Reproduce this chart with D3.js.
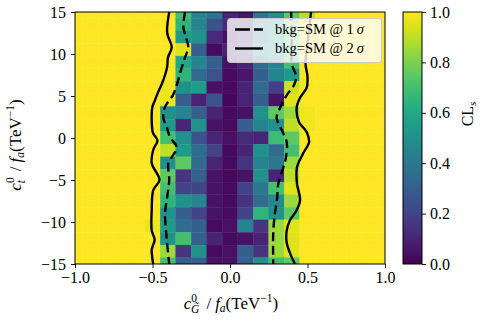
<!DOCTYPE html>
<html>
<head>
<meta charset="utf-8">
<script src="https://cdn.jsdelivr.net/npm/d3@7"></script>
<style>
  body { margin: 0; background: #fff; }
  text { font-family: "Liberation Serif", serif; fill: #000; }
</style>
</head>
<body>
<div id="chart"></div>
<script>
// grid centres (cells are 0.1 wide in x, 1.5 tall in y)
var xCenters = [-1.0,-0.9,-0.8,-0.7,-0.6,-0.5,-0.4,-0.3,-0.2,-0.1,0.0,0.1,0.2,0.3,0.4,0.5,0.6,0.7,0.8,0.9,1.0];
var yCenters = [15,13.5,12,10.5,9,7.5,6,4.5,3,1.5,0,-1.5,-3,-4.5,-6,-7.5,-9,-10.5,-12,-13.5,-15];

// CL_s per row (top to bottom), per column (left to right)
var clsRows = [
  [1,1,1,1,1,1,   1,   0.7, 0.45,0.4, 0.1, 0.06,0.4, 0.5, 0.75,0.9, 1,1,1,1,1],
  [1,1,1,1,1,1,   1,   0.65,0.45,0.25,0.12,0.1, 0.45,0.5, 0.8, 1,   1,1,1,1,1],
  [1,1,1,1,1,1,   1,   0.55,0.5, 0.12,0.04,0.1, 0.4, 0.55,0.75,1,   1,1,1,1,1],
  [1,1,1,1,1,1,   1,   0.95,0.3, 0.03,0.1, 0.15,0.5, 0.55,0.7, 1,   1,1,1,1,1],
  [1,1,1,1,1,1,   1,   0.6, 0.45,0.3, 0.04,0.1, 0.35,0.45,0.7, 1,   1,1,1,1,1],
  [1,1,1,1,1,1,   1,   0.65,0.35,0.25,0.03,0.06,0.3, 0.45,0.55,1,   1,1,1,1,1],
  [1,1,1,1,1,1,   0.98,0.5, 0.55,0.04,0.03,0.1, 0.35,0.18,0.92,1,   1,1,1,1,1],
  [1,1,1,1,1,1,   0.97,0.3, 0.1, 0.25,0.02,0.1, 0.3, 0.05,0.95,1,   1,1,1,1,1],
  [1,1,1,1,1,1,   0.5, 0.45,0.3, 0.1, 0.03,0.05,0.5, 0.75,0.85,0.98,1,1,1,1,1],
  [1,1,1,1,1,1,   0.55,0.1, 0.5, 0.05,0.03,0.3, 0.45,0.5, 0.9, 0.98,1,1,1,1,1],
  [1,1,1,1,1,1,   0.7, 0.5, 0.25,0.1, 0.04,0.12,0.1, 0.68,0.75,1,   1,1,1,1,1],
  [1,1,1,1,1,1,   0.9, 0.55,0.35,0.2, 0.03,0.1, 0.5, 0.35,0.7, 1,   1,1,1,1,1],
  [1,1,1,1,1,1,   0.5, 0.75,0.35,0.1, 0.03,0.15,0.45,0.4, 0.85,1,   1,1,1,1,1],
  [1,1,1,1,1,1,   0.75,0.15,0.3, 0.05,0.02,0.05,0.5, 0.1, 0.9, 1,   1,1,1,1,1],
  [1,1,1,1,1,1,   0.7, 0.2, 0.2, 0.05,0.03,0.2, 0.4, 0.7, 0.95,1,   1,1,1,1,1],
  [1,1,1,1,1,1,   0.65,0.5, 0.45,0.05,0.03,0.15,0.35,0.47,0.85,1,   1,1,1,1,1],
  [1,1,1,1,1,1,   0.5, 0.3, 0.2, 0.05,0.03,0.2, 0.65,0.5, 0.75,1,   1,1,1,1,1],
  [1,1,1,1,1,0.97,0.55,0.35,0.3, 0.03,0.04,0.45,0.15,0.85,0.95,1,   1,1,1,1,1],
  [1,1,1,1,1,1,   0.5, 0.7, 0.3, 0.1, 0.03,0.05,0.1, 0.85,0.95,1,   1,1,1,1,1],
  [1,1,1,1,1,1,   0.85,0.15,0.5, 0.03,0.04,0.3, 0.15,0.85,0.95,1,   1,1,1,1,1],
  [1,1,1,1,1,1,   0.7, 0.3, 0.3, 0.05,0.04,0.3, 0.5, 0.7, 0.75,1,   1,1,1,1,1]
];

var xTicks = [-1, -0.5, 0, 0.5, 1];
var yTicks = [-15, -10, -5, 0, 5, 10, 15];
var cbTicks = [0, 0.2, 0.4, 0.6, 0.8, 1.0];

// contours, [x, y]
var sig1Left = [[-0.29,15],[-0.301,13.2],[-0.284,12.0],[-0.269,10.8],[-0.29,9.6],[-0.316,8.1],[-0.34,6.5],[-0.368,5.1],[-0.419,3.7],[-0.43,2.4],[-0.408,1.3],[-0.387,0.1],[-0.344,-1.1],[-0.376,-2.3],[-0.398,-3.0],[-0.392,-5.0],[-0.405,-7.0],[-0.419,-8.9],[-0.413,-11.0],[-0.406,-12.5],[-0.392,-15]];
var sig1Right = [[0.394,15],[0.397,12.9],[0.40,10.5],[0.398,8.9],[0.426,7.3],[0.413,6.3],[0.366,5.1],[0.323,3.6],[0.301,2.4],[0.334,0.95],[0.366,-0.5],[0.361,-2.3],[0.344,-3.5],[0.312,-5.4],[0.303,-7.4],[0.29,-8.9],[0.279,-11.3],[0.279,-15]];
var sig2Left = [[-0.392,15],[-0.405,12.5],[-0.376,10.8],[-0.40,9.6],[-0.406,8.4],[-0.43,6.9],[-0.465,5.4],[-0.484,4.5],[-0.501,3.7],[-0.505,2.1],[-0.497,0.6],[-0.468,-0.3],[-0.495,-1.4],[-0.505,-3.0],[-0.455,-5.0],[-0.495,-6.2],[-0.505,-8.6],[-0.505,-11.0],[-0.486,-12.1],[-0.505,-13.3],[-0.495,-15]];
var sig2Right = [[0.523,15],[0.503,11.7],[0.487,8.9],[0.50,7.3],[0.495,6.0],[0.452,4.8],[0.43,3.6],[0.445,1.9],[0.495,0.7],[0.51,-0.5],[0.473,-1.8],[0.432,-3.5],[0.432,-5.4],[0.452,-7.4],[0.43,-8.6],[0.387,-9.8],[0.366,-11.0],[0.366,-12.5],[0.387,-13.7],[0.419,-15]];

var legendLabels = ["1", "2"];

var W = 485, H = 327;
var plot = { left: 75, right: 385, top: 12, bottom: 264 };
var cbar = { left: 403, right: 422 };
var serif = "'Liberation Serif', serif";

var svg = d3.select("#chart").append("svg")
    .attr("width", W)
    .attr("height", H);

var x = d3.scaleLinear().domain([-1, 1]).range([plot.left, plot.right]);
var y = d3.scaleLinear().domain([-15, 15]).range([plot.bottom, plot.top]);
var color = d3.scaleSequential(d3.interpolateViridis).domain([0, 1]);

svg.append("clipPath").attr("id", "clip")
  .append("rect")
    .attr("x", plot.left).attr("y", plot.top)
    .attr("width", plot.right - plot.left)
    .attr("height", plot.bottom - plot.top);

var cells = [];
clsRows.forEach(function(row, i) {
  row.forEach(function(v, j) {
    cells.push({ cx: xCenters[j], cy: yCenters[i], v: v });
  });
});

var g = svg.append("g").attr("clip-path", "url(#clip)");
g.selectAll("rect.cell").data(cells).enter().append("rect")
    .attr("class", "cell")
    .attr("x", function(d) { return x(d.cx - 0.05); })
    .attr("y", function(d) { return y(d.cy + 0.75); })
    .attr("width", function(d) { return x(d.cx + 0.05) - x(d.cx - 0.05); })
    .attr("height", function(d) { return y(d.cy - 0.75) - y(d.cy + 0.75); })
    .style("fill", function(d) { return color(d.v); })
    .style("stroke", function(d) { return color(d.v); })
    .style("stroke-width", 0.4);

var line = d3.line()
    .x(function(d) { return x(d[0]); })
    .y(function(d) { return y(d[1]); })
    .curve(d3.curveCatmullRom);

[sig1Left, sig1Right].forEach(function(pts) {
  g.append("path").attr("d", line(pts))
    .style("fill", "none").style("stroke", "#000")
    .style("stroke-width", 2.4).style("stroke-dasharray", "9,4.5");
});
[sig2Left, sig2Right].forEach(function(pts) {
  g.append("path").attr("d", line(pts))
    .style("fill", "none").style("stroke", "#000")
    .style("stroke-width", 2.4);
});

// frame
svg.append("rect")
    .attr("x", plot.left).attr("y", plot.top)
    .attr("width", plot.right - plot.left)
    .attr("height", plot.bottom - plot.top)
    .style("fill", "none").style("stroke", "#000").style("stroke-width", 1);

// axes
var xAxis = svg.append("g")
    .attr("transform", "translate(0," + plot.bottom + ")")
    .call(d3.axisBottom(x).tickValues(xTicks).tickFormat(d3.format(".1f")).tickSize(4).tickPadding(4));
var yAxis = svg.append("g")
    .attr("transform", "translate(" + plot.left + ",0)")
    .call(d3.axisLeft(y).tickValues(yTicks).tickFormat(d3.format("d")).tickSize(4).tickPadding(5));
[xAxis, yAxis].forEach(function(a) {
  a.attr("font-family", serif).attr("font-size", 16);
  a.select(".domain").remove();
  a.selectAll("line").style("stroke", "#000").style("stroke-width", 0.9);
  a.selectAll("text").style("font-family", serif).style("font-size", "16px").style("fill", "#000");
});

// axis labels
var xl = svg.append("text")
    .attr("x", 231).attr("y", 309)
    .attr("text-anchor", "middle")
    .style("font-size", "17px");
xl.append("tspan").style("font-style", "italic").text("c");
xl.append("tspan").attr("dy", -7).style("font-size", "11.5px").text("0");
xl.append("tspan").attr("dx", -6).attr("dy", 11).style("font-size", "11.5px").style("font-style", "italic").text("G\u0303");
xl.append("tspan").attr("dy", -4).attr("dx", 7).text("/");
xl.append("tspan").attr("dx", 4).style("font-style", "italic").text("f");
xl.append("tspan").attr("dy", 3).style("font-size", "11.5px").style("font-style", "italic").text("a");
xl.append("tspan").attr("dy", -3).text("(TeV");
xl.append("tspan").attr("dy", -7).style("font-size", "11.5px").text("\u22121");
xl.append("tspan").attr("dy", 7).text(")");

var yl = svg.append("text")
    .attr("transform", "translate(21,145) rotate(-90)")
    .attr("text-anchor", "middle")
    .style("font-size", "17px");
yl.append("tspan").style("font-style", "italic").text("c");
yl.append("tspan").attr("dy", -7).style("font-size", "11.5px").text("0");
yl.append("tspan").attr("dx", -6).attr("dy", 11).style("font-size", "11.5px").style("font-style", "italic").text("t");
yl.append("tspan").attr("dy", -4).attr("dx", 9).text("/");
yl.append("tspan").attr("dx", 4).style("font-style", "italic").text("f");
yl.append("tspan").attr("dy", 3).style("font-size", "11.5px").style("font-style", "italic").text("a");
yl.append("tspan").attr("dy", -3).text("(TeV");
yl.append("tspan").attr("dy", -7).style("font-size", "11.5px").text("\u22121");
yl.append("tspan").attr("dy", 7).text(")");

// legend
var leg = svg.append("g");
leg.append("rect")
    .attr("x", 227.5).attr("y", 18.5).attr("width", 154).attr("height", 44).attr("rx", 3)
    .style("fill", "#fff").style("fill-opacity", 0.8)
    .style("stroke", "#ccc").style("stroke-width", 1);
legendLabels.forEach(function(s, i) {
  var ly = 29.5 + i * 19;
  leg.append("line")
      .attr("x1", 235).attr("x2", 263).attr("y1", ly).attr("y2", ly)
      .style("stroke", "#000").style("stroke-width", 2.4)
      .style("stroke-dasharray", i === 0 ? "15,4" : null);
  var t = leg.append("text").attr("x", 275).attr("y", ly + 4.5).style("font-size", "14.5px");
  t.append("tspan").text("bkg=SM @ " + s + "\u2009");
  t.append("tspan").style("font-style", "italic").text("\u03c3");
});

// colorbar
var defs = svg.append("defs");
var grad = defs.append("linearGradient").attr("id", "cbgrad")
    .attr("x1", 0).attr("x2", 0).attr("y1", 1).attr("y2", 0);
d3.range(0, 1.0001, 0.05).forEach(function(t) {
  grad.append("stop").attr("offset", t).attr("stop-color", color(t));
});
svg.append("rect")
    .attr("x", cbar.left).attr("y", plot.top)
    .attr("width", cbar.right - cbar.left).attr("height", plot.bottom - plot.top)
    .style("fill", "url(#cbgrad)").style("stroke", "#000").style("stroke-width", 1);

var cy = d3.scaleLinear().domain([0, 1]).range([plot.bottom, plot.top]);
var cbAxis = svg.append("g")
    .attr("transform", "translate(" + cbar.right + ",0)")
    .call(d3.axisRight(cy).tickValues(cbTicks).tickFormat(d3.format(".1f")).tickSize(4).tickPadding(4));
cbAxis.attr("font-family", serif).attr("font-size", 16);
cbAxis.select(".domain").remove();
cbAxis.selectAll("line").style("stroke", "#000").style("stroke-width", 0.9);
cbAxis.selectAll("text").style("font-family", serif).style("font-size", "16px").style("fill", "#000");

var cl = svg.append("text")
    .attr("transform", "translate(473,114) rotate(-90)")
    .attr("text-anchor", "middle")
    .style("font-size", "16px");
cl.append("tspan").text("CL");
cl.append("tspan").attr("dy", 3).style("font-size", "11px").style("font-style", "italic").text("s");
</script>
</body>
</html>
